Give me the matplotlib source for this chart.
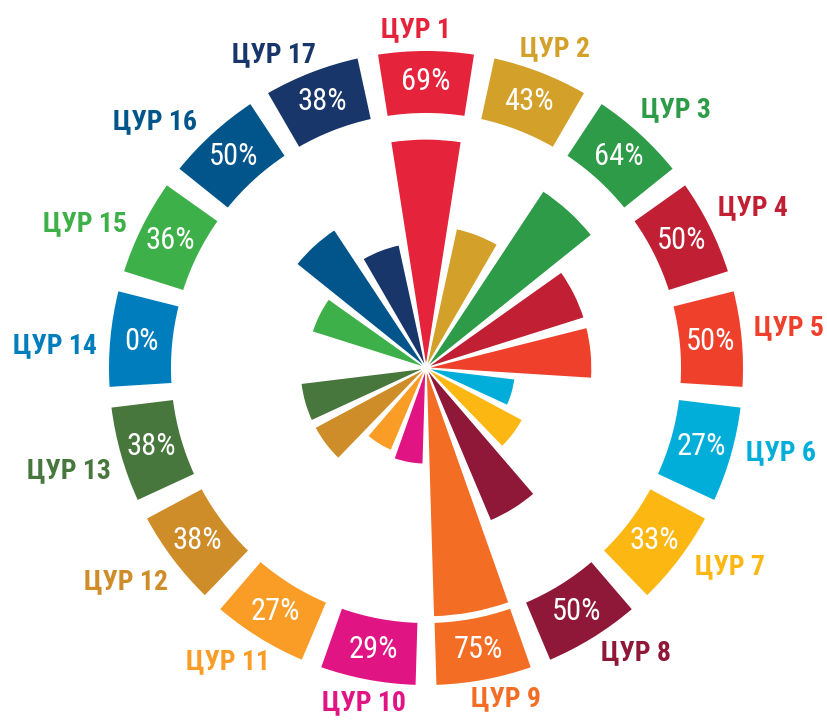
import numpy as np
import matplotlib
matplotlib.use("Agg")
import matplotlib.pyplot as plt
from matplotlib import font_manager
from matplotlib.transforms import offset_copy

goals = ["ЦУР 1", "ЦУР 2", "ЦУР 3", "ЦУР 4", "ЦУР 5", "ЦУР 6", "ЦУР 7", "ЦУР 8", "ЦУР 9",
         "ЦУР 10", "ЦУР 11", "ЦУР 12", "ЦУР 13", "ЦУР 14", "ЦУР 15", "ЦУР 16", "ЦУР 17"]
values = [69, 43, 64, 50, 50, 27, 33, 50, 75, 29, 27, 38, 38, 0, 36, 50, 38]
colors = ["#E5243B", "#D3A029", "#2E9B48", "#C11F33", "#EF402B", "#00AED9", "#FDB713",
          "#8F1838", "#F36D25", "#E11484", "#F99D26", "#CF8D2A", "#48773E", "#007DBC",
          "#3EB049", "#02558B", "#19366A"]

# condensed face like the original; fall back to whatever is there
names = {f.name for f in font_manager.fontManager.ttflist}
FONT = [f for f in ["Roboto Condensed", "Fira Sans Condensed", "Roboto"] if f in names]
FONT += ["DejaVu Sans"]

W, H = 827, 725
CX, CY = 426, 368          # centre of the wheel, px from top-left
PX = 3.32                  # px per percentage point
RMAX = 125

fig = plt.figure(figsize=(W / 100, H / 100), dpi=100)
rpx = RMAX * PX
ax = fig.add_axes([(CX - rpx) / W, (H - CY - rpx) / H, 2 * rpx / W, 2 * rpx / H],
                  projection="polar")
ax.set_theta_zero_location("N")
ax.set_theta_direction(-1)
ax.set_ylim(0, RMAX)
ax.set_axis_off()

n = len(values)
step = 2 * np.pi / n
theta = np.arange(n) * step

# inner wedges: length = share
ax.bar(theta, values, width=step * 0.84, bottom=0, color=colors,
       edgecolor="white", linewidth=1.0, align="center")

# outer ring
ring_in, ring_out = 76.5, 95.8
ax.bar(theta, ring_out - ring_in, width=step * 0.84, bottom=ring_in, color=colors,
       edgecolor="white", linewidth=1.5, align="center")

renderer = fig.canvas.get_renderer()
r_edge = 99.5              # labels sit just outside the ring, nearest edge here
shift = np.deg2rad(-1.5)   # labels lean a little anticlockwise in the original

for t, v, g, c in zip(theta, values, goals, colors):
    ax.text(t, (ring_in + ring_out) / 2, f"{v}%", ha="center", va="center",
            color="white", fontsize=22, family=FONT)
    # measure the label, then push it outward so its near corner meets r_edge
    probe = ax.text(0, 0, g, fontsize=20, fontweight="bold", family=FONT)
    bb = probe.get_window_extent(renderer)
    probe.remove()
    a = t + shift
    dx = np.clip(np.sin(a) * 1.5, -1, 1) * bb.width / 2
    dy = np.clip(np.cos(a) * 1.5, -1, 1) * bb.height / 2 * 0.6
    tr = offset_copy(ax.transData, fig=fig, x=dx, y=dy, units="dots")
    ax.text(a, r_edge, g, ha="center", va="center", color=c, fontsize=20,
            fontweight="bold", family=FONT, transform=tr)

fig.savefig("out.png", dpi=100)
